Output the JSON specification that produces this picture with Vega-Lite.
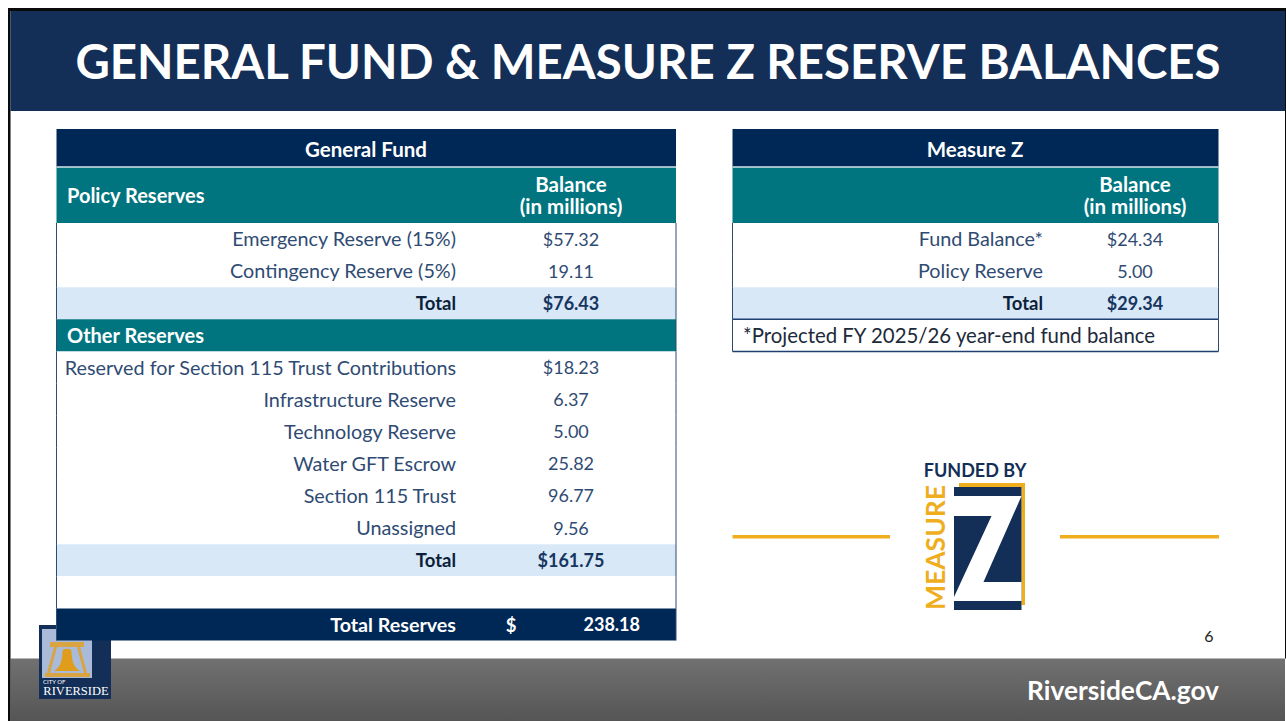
{
"$schema":"https://vega.github.io/schema/vega-lite/v6.json",
"width":1286,"height":721,"padding":0,
"autosize":{"type":"fit","contains":"padding"},
"background":"#ffffff",
"config":{"view":{"stroke":null},"axis":{"disable":true},"text":{"font":"Lato"}},
"resolve":{"scale":{"x":"independent","y":"independent","color":"independent"}},
"datasets":{
"slide":[
{"part":"footer","col":2,"colEnd":23,"lane":15,"laneEnd":21},
{"part":"frame","col":1,"colEnd":2,"lane":0,"laneEnd":21},
{"part":"frame","col":1,"colEnd":24,"lane":0,"laneEnd":1},
{"part":"frame","col":23,"colEnd":24,"lane":1,"laneEnd":15},
{"part":"band","col":2,"colEnd":23,"lane":1,"laneEnd":3},
{"part":"crest","col":3,"colEnd":9,"lane":12,"laneEnd":20},
{"part":"sky","col":4,"colEnd":8,"lane":13,"laneEnd":17},
{"part":"gold","col":11,"colEnd":12,"lane":7,"laneEnd":8},
{"part":"gold","col":20,"colEnd":22,"lane":7,"laneEnd":8},
{"part":"gold","col":15,"colEnd":19,"lane":5,"laneEnd":6},
{"part":"gold","col":18,"colEnd":19,"lane":5,"laneEnd":10},
{"part":"crest","col":14,"colEnd":18,"lane":6,"laneEnd":11},
{"part":"z","col":17,"lane":9},
{"part":"bell","col":6,"lane":16},
{"part":"title","col":10,"lane":2,"text":"GENERAL FUND & MEASURE Z RESERVE BALANCES"},
{"part":"web","col":22,"lane":19,"text":"RiversideCA.gov"},
{"part":"page","col":21,"lane":14,"text":"6"},
{"part":"cityof","col":5,"lane":18,"text":"CITY OF"},
{"part":"riverside","col":7,"lane":19,"text":"RIVERSIDE"},
{"part":"funded","col":16,"lane":4,"text":"FUNDED BY"},
{"part":"measure","col":13,"lane":9,"text":"MEASURE"}
],
"rows":[
{"table":"General Fund","row":0,"kind":"title","item":"General Fund"},
{"table":"General Fund","row":1,"kind":"header","item":"Policy Reserves","heading":"Balance\n(in millions)"},
{"table":"General Fund","row":2,"kind":"detail","item":"Emergency Reserve (15%)","balance":57.32,"dollar":true},
{"table":"General Fund","row":3,"kind":"detail","item":"Contingency Reserve (5%)","balance":19.11,"dollar":false},
{"table":"General Fund","row":4,"kind":"total","item":"Total","balance":76.43,"dollar":true},
{"table":"General Fund","row":5,"kind":"section","item":"Other Reserves"},
{"table":"General Fund","row":6,"kind":"detail","item":"Reserved for Section 115 Trust Contributions","balance":18.23,"dollar":true},
{"table":"General Fund","row":7,"kind":"detail","item":"Infrastructure Reserve","balance":6.37,"dollar":false},
{"table":"General Fund","row":8,"kind":"detail","item":"Technology Reserve","balance":5.00,"dollar":false},
{"table":"General Fund","row":9,"kind":"detail","item":"Water GFT Escrow","balance":25.82,"dollar":false},
{"table":"General Fund","row":10,"kind":"detail","item":"Section 115 Trust","balance":96.77,"dollar":false},
{"table":"General Fund","row":11,"kind":"detail","item":"Unassigned","balance":9.56,"dollar":false},
{"table":"General Fund","row":12,"kind":"total","item":"Total","balance":161.75,"dollar":true},
{"table":"General Fund","row":13,"kind":"blank"},
{"table":"General Fund","row":14,"kind":"grand","item":"Total Reserves","balance":238.18,"dollar":false},
{"table":"Measure Z","row":0,"kind":"title","item":"Measure Z"},
{"table":"Measure Z","row":1,"kind":"header","item":"","heading":"Balance\n(in millions)"},
{"table":"Measure Z","row":2,"kind":"detail","item":"Fund Balance*","balance":24.34,"dollar":true},
{"table":"Measure Z","row":3,"kind":"detail","item":"Policy Reserve","balance":5.00,"dollar":false},
{"table":"Measure Z","row":4,"kind":"total","item":"Total","balance":29.34,"dollar":true},
{"table":"Measure Z","row":5,"kind":"note","item":"*Projected FY 2025/26 year-end fund balance"}
]
},
"layer":[
{
"data":{"name":"slide"},
"encoding":{
"x":{"field":"col","type":"quantitative","scale":{"nice":false,"domain":[0,1,2,3,4,5,6,7,8,9,10,11,12,13,14,15,16,17,18,19,20,21,22,23,24],"range":[0,8,10.5,39,42,43,67,76,92,111,648,732.5,890,937,954,959,975,987.75,1021.5,1025,1060,1209,1219,1285,1286]}},
"y":{"field":"lane","type":"quantitative","scale":{"nice":false,"domain":[0,1,2,3,4,5,6,7,8,9,10,11,12,13,14,15,16,17,18,19,20,21],"range":[8,11,60,111,470,483,487,535,538.5,548.5,605,610,625,629,637,658.5,660,678,682,691,699,721]}}
},
"layer":[
{"transform":[{"filter":"datum.part==='footer'"}],
 "mark":{"type":"rect","color":{"gradient":"linear","x1":0,"y1":0,"x2":0,"y2":1,"stops":[{"offset":0,"color":"#717171"},{"offset":1,"color":"#555555"}]}},
 "encoding":{"x2":{"field":"colEnd"},"y2":{"field":"laneEnd"}}},
{"transform":[{"filter":"indexof(['frame','band','crest','sky','gold'],datum.part)>=0"}],
 "mark":{"type":"rect"},
 "encoding":{"x2":{"field":"colEnd"},"y2":{"field":"laneEnd"},
  "color":{"field":"part","type":"nominal","legend":null,"scale":{"domain":["frame","band","crest","sky","gold"],"range":["#0a0a0a","#132e57","#132e57","#a9bbd8","#efae1e"]}}}},
{"transform":[{"filter":"datum.part==='z'"}],
 "mark":{"type":"point","filled":true,"opacity":1,"strokeWidth":0,"color":"#ffffff","size":10000,"shape":"M-0.675,-1.05L0.675,-1.05L-0.085,0.67L0.675,0.67L0.675,1.05L-0.675,1.05L-0.675,0.97L0.075,-0.65L-0.675,-0.65Z"}},
{"transform":[{"filter":"datum.part==='bell'"}],
 "mark":{"type":"point","filled":true,"opacity":1,"strokeWidth":0,"color":"#d9a441","size":1600,"shape":"M-0.85,-0.9L0.85,-0.9L0.85,-0.65L0.65,-0.65L1,0.65L1.15,0.65L1.15,0.85L-1.1,0.85L-1.1,0.65L-1,0.65L-0.65,-0.65L-0.85,-0.65ZM-0.5,-0.65L-0.85,0.65L0.85,0.65L0.5,-0.65Z"}},
{"transform":[{"filter":"datum.part==='bell'"}],
 "mark":{"type":"point","filled":true,"opacity":1,"strokeWidth":0,"color":"#e09d1c","size":1600,"shape":"M-0.22,-0.45C-0.22,-0.6 0.22,-0.6 0.22,-0.45C0.25,0 0.3,0.35 0.65,0.55L-0.65,0.55C-0.3,0.35 -0.25,0 -0.22,-0.45Z"}},
{"transform":[{"filter":"datum.part==='title'"}],
 "mark":{"type":"text","align":"center","baseline":"middle","font":"Lato","fontWeight":"bold","fontSize":47.4,"color":"#ffffff","dy":4.5},
 "encoding":{"text":{"field":"text"}}},
{"transform":[{"filter":"datum.part==='web'"}],
 "mark":{"type":"text","align":"right","baseline":"middle","font":"Lato","fontWeight":"bold","fontSize":26.3,"color":"#ffffff","dy":1},
 "encoding":{"text":{"field":"text"}}},
{"transform":[{"filter":"datum.part==='page'"}],
 "mark":{"type":"text","align":"center","baseline":"middle","font":"Lato","fontSize":16,"color":"#222222"},
 "encoding":{"text":{"field":"text"}}},
{"transform":[{"filter":"datum.part==='cityof'"}],
 "mark":{"type":"text","align":"left","baseline":"middle","font":"Lato","fontSize":6,"color":"#ffffff"},
 "encoding":{"text":{"field":"text"}}},
{"transform":[{"filter":"datum.part==='riverside'"}],
 "mark":{"type":"text","align":"center","baseline":"middle","font":"Liberation Serif","fontSize":12.5,"color":"#ffffff"},
 "encoding":{"text":{"field":"text"}}},
{"transform":[{"filter":"datum.part==='funded'"}],
 "mark":{"type":"text","align":"center","baseline":"middle","font":"Lato","fontWeight":"bold","fontSize":18,"color":"#132e57","dy":2},
 "encoding":{"text":{"field":"text"}}},
{"transform":[{"filter":"datum.part==='measure'"}],
 "mark":{"type":"text","align":"center","baseline":"middle","angle":270,"font":"Lato","fontWeight":"bold","fontSize":26.5,"color":"#efae1e","dx":1},
 "encoding":{"text":{"field":"text"}}}
]
},
{
"data":{"name":"rows"},
"transform":[
{"calculate":"datum.table==='General Fund'","as":"gf"},
{"calculate":"datum.gf?0:8","as":"colLeft"},
{"calculate":"datum.gf?7:13","as":"colRight"},
{"calculate":"datum.gf?2:10","as":"colMid"},
{"calculate":"datum.gf?1:9","as":"colText"},
{"calculate":"datum.gf?3:11","as":"colLabel"},
{"calculate":"datum.gf?5:12","as":"colValue"},
{"calculate":"datum.row+1","as":"rowEnd"},
{"calculate":"datum.row+0.5","as":"rowMid"},
{"calculate":"datum.balance==null?'':(datum.dollar?'$':'')+format(datum.balance,'.2f')","as":"balanceText"},
{"calculate":"'$'","as":"sign"}
],
"layer":[
{"mark":{"type":"rect"},
 "encoding":{
 "x":{"field":"colLeft","type":"quantitative","scale":{"nice":false,"domain":[0,1,2,3,4,5,6,7,8,9,10,11,12,13],"range":[56.5,67,366,456,511,571,640,676,732.5,743,975,1043,1135,1218.5]}},
 "x2":{"field":"colRight"},
 "y":{"field":"row","type":"quantitative","scale":{"nice":false,"domain":[0,1,2,15],"range":[129,167,223,640.5]}},
 "y2":{"field":"rowEnd"},
 "color":{"field":"kind","type":"nominal","legend":null,"scale":{"domain":["title","header","section","total","grand","detail","blank","note"],"range":["#002856","#00757f","#00757f","#d9e8f7","#002856","#ffffff","#ffffff","#ffffff"]}}}},
{"transform":[{"filter":"datum.row>=2"}],"mark":{"type":"rule","color":"#2f4b73","strokeWidth":1},
 "encoding":{"x":{"field":"colLeft","type":"quantitative"},"y":{"field":"row","type":"quantitative"},"y2":{"field":"rowEnd"}}},
{"transform":[{"filter":"datum.row>=2"}],"mark":{"type":"rule","color":"#2f4b73","strokeWidth":1},
 "encoding":{"x":{"field":"colRight","type":"quantitative"},"y":{"field":"row","type":"quantitative"},"y2":{"field":"rowEnd"}}},
{"transform":[{"filter":"datum.kind==='note'"}],"mark":{"type":"rule","color":"#1f3f70","strokeWidth":1.5},
 "encoding":{"x":{"field":"colLeft","type":"quantitative"},"x2":{"field":"colRight"},"y":{"field":"row","type":"quantitative"}}},
{"transform":[{"filter":"datum.kind==='note'"}],"mark":{"type":"rule","color":"#1f3f70","strokeWidth":1.5},
 "encoding":{"x":{"field":"colLeft","type":"quantitative"},"x2":{"field":"colRight"},"y":{"field":"rowEnd","type":"quantitative"}}},
{"transform":[{"filter":"datum.row===1"}],"mark":{"type":"rule","color":"#d5e4ea","strokeWidth":1.5},
 "encoding":{"x":{"field":"colLeft","type":"quantitative"},"x2":{"field":"colRight"},"y":{"field":"row","type":"quantitative"}}},
{"transform":[{"filter":"datum.kind==='title'"}],
 "mark":{"type":"text","align":"center","baseline":"middle","font":"Lato","fontWeight":"bold","fontSize":20.5,"color":"#ffffff","dy":2.5},
 "encoding":{"x":{"field":"colMid","type":"quantitative"},"y":{"field":"rowMid","type":"quantitative"},"text":{"field":"item"}}},
{"transform":[{"filter":"datum.kind==='header'||datum.kind==='section'"}],
 "mark":{"type":"text","align":"left","baseline":"middle","font":"Lato","fontWeight":"bold","fontSize":20,"color":"#ffffff","dy":1.5},
 "encoding":{"x":{"field":"colText","type":"quantitative"},"y":{"field":"rowMid","type":"quantitative"},"text":{"field":"item"}}},
{"transform":[{"filter":"datum.kind==='header'"}],
 "mark":{"type":"text","align":"center","baseline":"middle","font":"Lato","fontWeight":"bold","fontSize":20.5,"color":"#ffffff","lineBreak":"\n","lineHeight":22,"dy":-9},
 "encoding":{"x":{"field":"colValue","type":"quantitative"},"y":{"field":"rowMid","type":"quantitative"},"text":{"field":"heading"}}},
{"transform":[{"filter":"datum.kind==='detail'"}],
 "mark":{"type":"text","align":"right","baseline":"middle","font":"Lato","fontSize":19.8,"color":"#2f4b73","dy":1},
 "encoding":{"x":{"field":"colLabel","type":"quantitative"},"y":{"field":"rowMid","type":"quantitative"},"text":{"field":"item"}}},
{"transform":[{"filter":"datum.kind==='detail'"}],
 "mark":{"type":"text","align":"center","baseline":"middle","font":"Lato","fontSize":18,"color":"#2f4b73","dy":1.5},
 "encoding":{"x":{"field":"colValue","type":"quantitative"},"y":{"field":"rowMid","type":"quantitative"},"text":{"field":"balanceText"}}},
{"transform":[{"filter":"datum.kind==='total'"}],
 "mark":{"type":"text","align":"right","baseline":"middle","font":"Lato","fontWeight":"bold","fontSize":18.5,"color":"#0c1f3a","dy":1},
 "encoding":{"x":{"field":"colLabel","type":"quantitative"},"y":{"field":"rowMid","type":"quantitative"},"text":{"field":"item"}}},
{"transform":[{"filter":"datum.kind==='total'"}],
 "mark":{"type":"text","align":"center","baseline":"middle","font":"Lato","fontWeight":"bold","fontSize":18,"color":"#16365f","dy":1.5},
 "encoding":{"x":{"field":"colValue","type":"quantitative"},"y":{"field":"rowMid","type":"quantitative"},"text":{"field":"balanceText"}}},
{"transform":[{"filter":"datum.kind==='grand'"}],
 "mark":{"type":"text","align":"right","baseline":"middle","font":"Lato","fontWeight":"bold","fontSize":19.7,"color":"#ffffff","dy":1.5},
 "encoding":{"x":{"field":"colLabel","type":"quantitative"},"y":{"field":"rowMid","type":"quantitative"},"text":{"field":"item"}}},
{"transform":[{"filter":"datum.kind==='grand'"},{"calculate":"4","as":"colSign"}],
 "mark":{"type":"text","align":"center","baseline":"middle","font":"Lato","fontWeight":"bold","fontSize":18.5,"color":"#ffffff","dy":1.5},
 "encoding":{"x":{"field":"colSign","type":"quantitative"},"y":{"field":"rowMid","type":"quantitative"},"text":{"field":"sign"}}},
{"transform":[{"filter":"datum.kind==='grand'"},{"calculate":"6","as":"colTotal"}],
 "mark":{"type":"text","align":"right","baseline":"middle","font":"Lato","fontWeight":"bold","fontSize":18,"color":"#ffffff","dy":1.5},
 "encoding":{"x":{"field":"colTotal","type":"quantitative"},"y":{"field":"rowMid","type":"quantitative"},"text":{"field":"balanceText"}}},
{"transform":[{"filter":"datum.kind==='note'"}],
 "mark":{"type":"text","align":"left","baseline":"middle","font":"Lato","fontSize":20.4,"color":"#1c2a3a","dy":2},
 "encoding":{"x":{"field":"colText","type":"quantitative"},"y":{"field":"rowMid","type":"quantitative"},"text":{"field":"item"}}}
]
}
]
}
